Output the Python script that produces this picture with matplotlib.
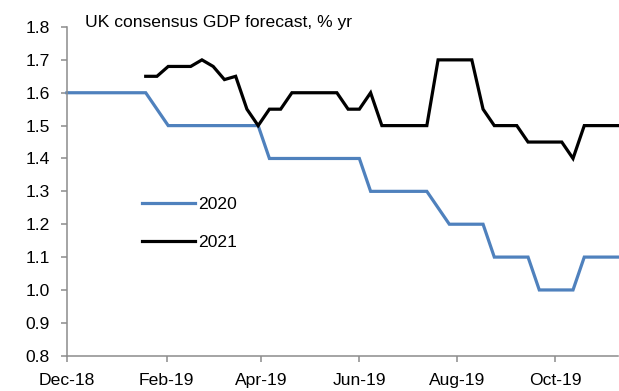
import matplotlib
matplotlib.use("Agg")
import matplotlib.pyplot as plt
import matplotlib.dates as mdates
import numpy as np
import pandas as pd

# Weekly survey dates
dates = pd.date_range("2018-12-01", periods=50, freq="7D")

# Consensus forecast for 2020 GDP growth, % yr
gdp_2020 = [1.60, 1.60, 1.60, 1.60, 1.60, 1.60, 1.60, 1.60, 1.55, 1.50,
            1.50, 1.50, 1.50, 1.50, 1.50, 1.50, 1.50, 1.50, 1.40, 1.40,
            1.40, 1.40, 1.40, 1.40, 1.40, 1.40, 1.40, 1.30, 1.30, 1.30,
            1.30, 1.30, 1.30, 1.25, 1.20, 1.20, 1.20, 1.20, 1.10, 1.10,
            1.10, 1.10, 1.00, 1.00, 1.00, 1.00, 1.10, 1.10, 1.10, 1.10]

# Consensus forecast for 2021 GDP growth, % yr (first survey in mid-January)
gdp_2021 = [np.nan] * 7 + [
            1.65, 1.65, 1.68, 1.68, 1.68, 1.70, 1.68, 1.64, 1.65, 1.55,
            1.50, 1.55, 1.55, 1.60, 1.60, 1.60, 1.60, 1.60, 1.55, 1.55,
            1.60, 1.50, 1.50, 1.50, 1.50, 1.50, 1.70, 1.70, 1.70, 1.70,
            1.55, 1.50, 1.50, 1.50, 1.45, 1.45, 1.45, 1.45, 1.40, 1.50,
            1.50, 1.50, 1.50]

series_labels = ["2020", "2021"]
title = "UK consensus GDP forecast, % yr"
y_ticks = [0.8, 0.9, 1.0, 1.1, 1.2, 1.3, 1.4, 1.5, 1.6, 1.7, 1.8]

W, H = 619, 391
fig = plt.figure(figsize=(W / 100, H / 100), dpi=100)
plt.rcParams["font.family"] = ["Liberation Sans", "DejaVu Sans"]

left, right = 67 / W, 618 / W
bottom, top = (H - 355.7) / H, (H - 27) / H
ax = fig.add_axes([left, bottom, right - left, top - bottom])

blue = "#4F81BD"
ax.plot(dates, gdp_2020, color=blue, lw=2.3, label=series_labels[0],
        solid_joinstyle="miter", clip_on=False)
ax.plot(dates, gdp_2021, color="black", lw=2.3, label=series_labels[1],
        solid_joinstyle="miter", clip_on=False)

ax.set_xlim(dates[0], dates[-1])
ax.set_ylim(0.8, 1.8)
ax.set_yticks(y_ticks)
ax.set_yticklabels([f"{v:.1f}" for v in y_ticks])

ax.xaxis.set_major_locator(mdates.MonthLocator(bymonth=[2, 4, 6, 8, 10, 12]))
ax.xaxis.set_major_formatter(mdates.DateFormatter("%b-%y"))

spine_col = "#8C8C8C"
for s in ["top", "right"]:
    ax.spines[s].set_visible(False)
for s in ["left", "bottom"]:
    ax.spines[s].set_color(spine_col)
    ax.spines[s].set_linewidth(1.1)

fs = 12.6
ax.tick_params(axis="both", colors=spine_col, labelcolor="black",
               labelsize=fs, direction="out", length=4.4, width=1.1)
ax.tick_params(axis="y", pad=7.8)
ax.tick_params(axis="x", pad=8.3)

fig.text(85 / W, (H - 27.3) / H, title, fontsize=fs, ha="left", va="baseline")

leg = ax.legend(loc="upper left", bbox_to_anchor=(142 / W, (H - 197) / H),
                bbox_transform=fig.transFigure, frameon=False, fontsize=fs,
                handlelength=3.0, handletextpad=0.22, labelspacing=1.3,
                borderaxespad=0, borderpad=0)

fig.savefig("out.png", dpi=100)
